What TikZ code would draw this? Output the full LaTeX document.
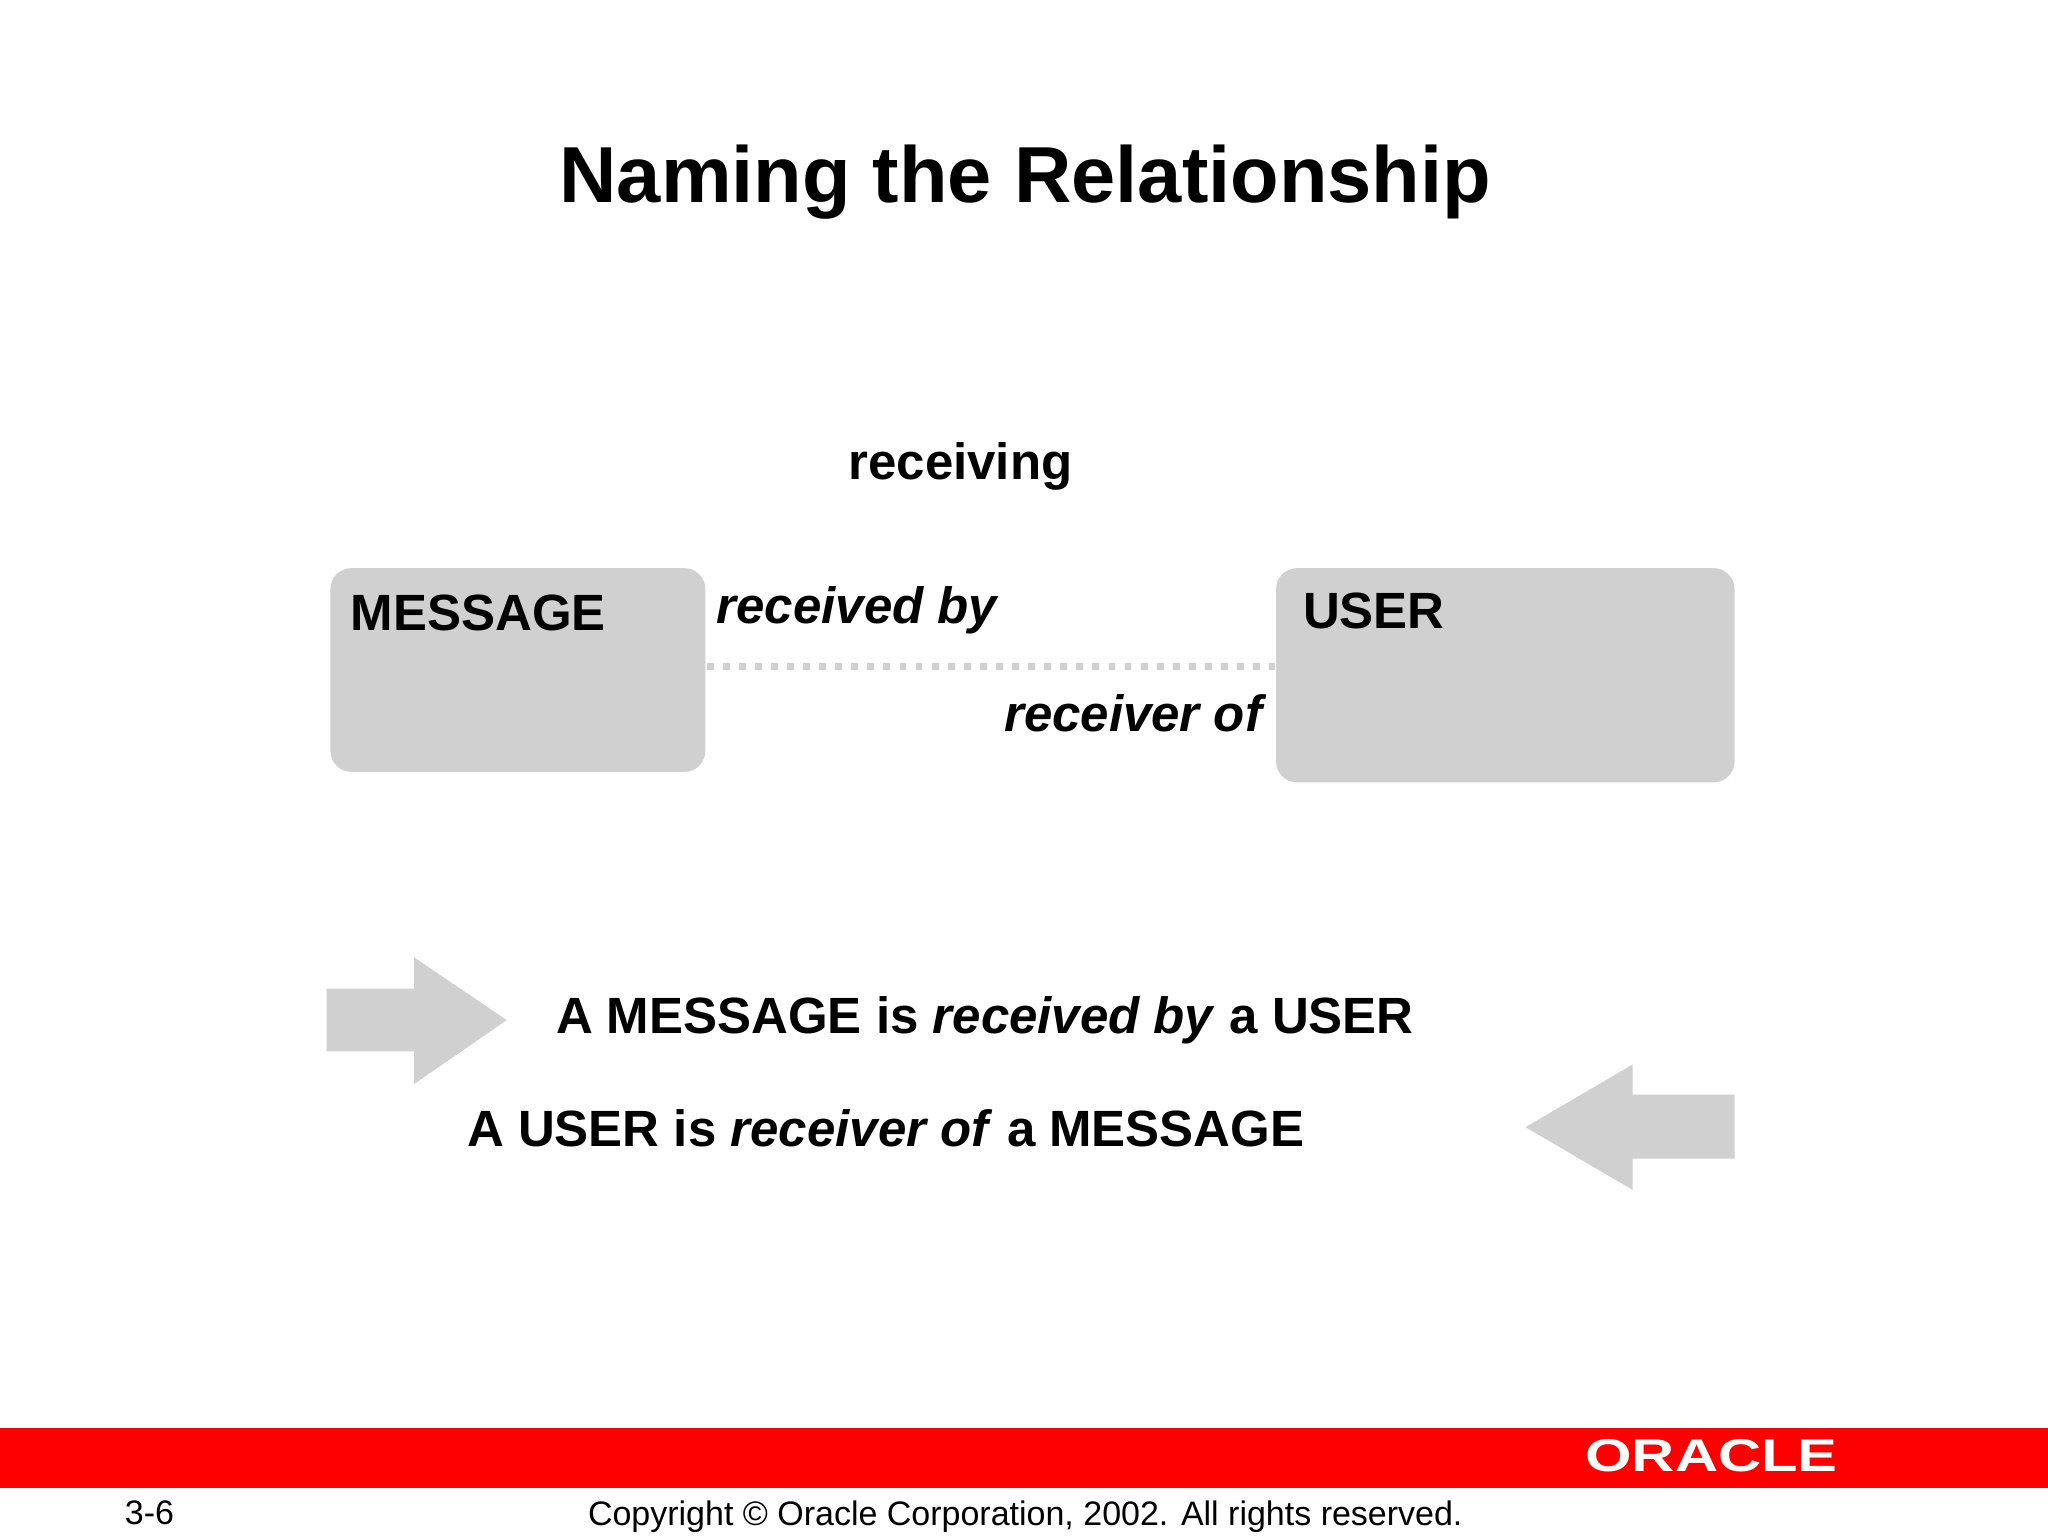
\documentclass[tikz,border=0pt]{standalone}
\usepackage{fontspec}
\setmainfont{Liberation Sans}
\definecolor{boxgray}{HTML}{D0D0D0}
\definecolor{oraclered}{HTML}{FF0000}
\begin{document}
\begin{tikzpicture}[x=0.01cm,y=-0.01cm,
  lbl/.style={font=\fontsize{11.1}{13}\selectfont\bfseries,inner sep=0pt},
  ent/.style={fill=boxgray,rounded corners=0.16cm,draw=none},
  arr/.style={fill=boxgray,draw=none}]
\useasboundingbox (0,0) rectangle (1568,1176);
\fill[white] (0,0) rectangle (1568,1176);
\node[font=\fontsize{17.3}{21}\selectfont\bfseries,anchor=base,inner sep=0pt] (title) at (785,155) {Naming the Relationship};
\node[lbl,anchor=base west] (rel) at (649,367) {receiving};
\path[ent] (253,435) rectangle (540,591);
\node[lbl,anchor=base west] (msg) at (268,483) {MESSAGE};
\path[ent] (977,435) rectangle (1328,599);
\node[lbl,anchor=base west] (usr) at (997,481) {USER};
\coordinate (l) at (541,510);
\coordinate (r) at (976,510);
\draw[boxgray,line width=1.5pt,dotted] (l) -- (r);
\node[lbl,anchor=base west] (rb) at (548,477) {\itshape received by};
\node[lbl,anchor=base east] (ro) at (967,560) {\itshape receiver of};
\fill[arr] (250,757) -- (317,757) -- (317,733) -- (388,781) -- (317,830) -- (317,805) -- (250,805) -- cycle;
\fill[arr] (1328,838) -- (1250,838) -- (1250,815) -- (1168,863) -- (1250,911) -- (1250,887) -- (1328,887) -- cycle;
\node[lbl,anchor=base west] (s1) at (425,791) {A MESSAGE is \textit{received by} a USER};
\node[lbl,anchor=base west] (s2) at (357,878) {A USER is \textit{receiver of} a MESSAGE};
\fill[oraclered] (0,1093) rectangle (1568,1139);
\node[font=\fontsize{10}{12}\selectfont\bfseries,text=white,anchor=base west,inner sep=0pt,xscale=1.3] (logo) at (1213,1127) {ORACLE};
\node[font=\fontsize{7.4}{9}\selectfont,anchor=base west,inner sep=0pt] (pg) at (95,1167) {3-6};
\node[font=\fontsize{7.4}{9}\selectfont,anchor=base,inner sep=0pt] (copy) at (785,1168) {Copyright © Oracle Corporation, 2002. All rights reserved.};
\end{tikzpicture}
\end{document}
